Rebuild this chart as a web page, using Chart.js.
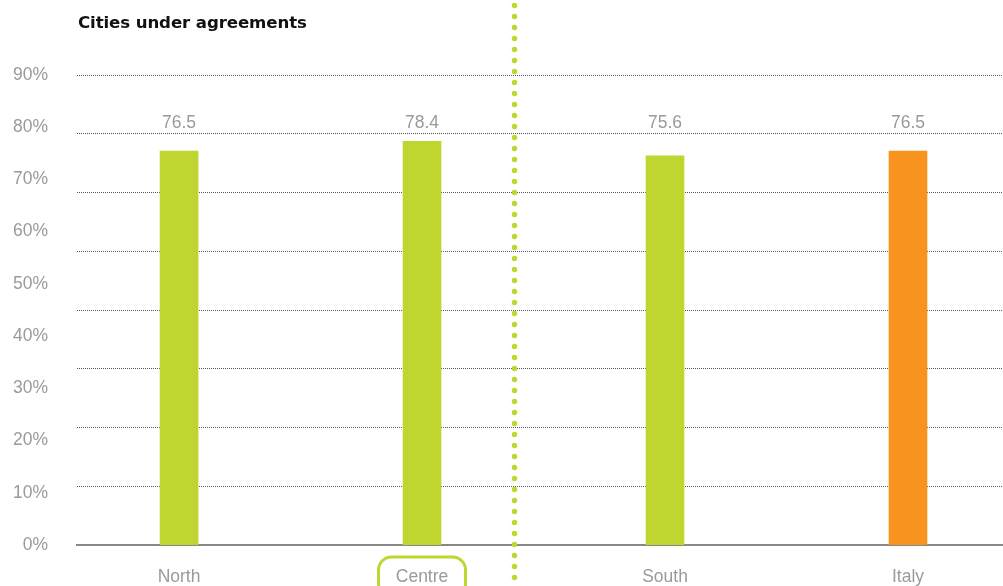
<!DOCTYPE html>
<html>
<head>
<meta charset="utf-8">
<script src="https://cdn.jsdelivr.net/npm/chart.js@4.4.1/dist/chart.umd.min.js"></script>
<style>
  html, body { margin: 0; padding: 0; background: #fff; overflow: hidden; }
  .wrap { position: relative; width: 1003px; height: 586px; }
  .title { position: absolute; left: 78px; top: 13px; font: bold 16.6px "DejaVu Sans", Arial, sans-serif; color: #111; letter-spacing: -0.1px; }
  canvas { display: block; }
</style>
</head>
<body>
<div class="wrap">
  <div class="title">Cities under agreements</div>
  <canvas id="chart" width="1003" height="586"></canvas>
</div>
<script>
// Share of cities under agreements, by area
const areas = ['North', 'Centre', 'South', 'Italy'];
const shares = [76.5, 78.4, 75.6, 76.5];
const barColors = ['#bed62f', '#bed62f', '#bed62f', '#f7931e'];
const yTicks = [0, 10, 20, 30, 40, 50, 60, 70, 80, 90];
const highlighted = 'Centre';
const dividerAt = 1.38; // between Centre and South

const green = '#bed62f';
const grey = '#9a9a9c';
const font = { family: '"Liberation Sans", Arial, sans-serif', size: 17.5 };

const extras = {
  id: 'extras',
  afterDatasetsDraw(chart) {
    const { ctx, scales: { x }, chartArea } = chart;
    ctx.save();
    // value labels above the bars
    ctx.font = font.size + 'px ' + font.family;
    ctx.fillStyle = grey;
    ctx.textAlign = 'center';
    ctx.textBaseline = 'middle';
    shares.forEach((v, i) => {
      ctx.fillText(v.toFixed(1), x.getPixelForValue(i), chartArea.top + 48);
    });

    // dotted divider
    const dx = Math.round(x.getPixelForValue(dividerAt)) + 0.5;
    ctx.fillStyle = green;
    for (let y = 5.5; y < chart.height; y += 11) {
      ctx.beginPath();
      ctx.arc(dx, y, 2.7, 0, Math.PI * 2);
      ctx.fill();
    }

    // rounded box round the highlighted area label
    const hx = x.getPixelForValue(areas.indexOf(highlighted));
    const w = 87, h = 40, r = 13, top = 557;
    ctx.strokeStyle = green;
    ctx.lineWidth = 3;
    ctx.beginPath();
    ctx.roundRect(hx - w / 2, top, w, h, r);
    ctx.stroke();
    ctx.restore();
  }
};

new Chart(document.getElementById('chart'), {
  type: 'bar',
  data: {
    datasets: [{
      data: shares.map((v, i) => ({ x: i, y: v })),
      backgroundColor: barColors,
      barThickness: 38,
      yAxisID: 'y'
    }]
  },
  options: {
    responsive: false,
    animation: false,
    layout: { padding: { top: 75, right: 0, left: 0, bottom: 0 } },
    plugins: { legend: { display: false }, tooltip: { enabled: false } },
    scales: {
      x: {
        type: 'linear',
        offset: false,
        min: -0.42,
        max: 3.391,
        grid: { display: false, drawTicks: false, offset: false },
        border: { display: true, color: '#888', width: 2 },
        afterBuildTicks: s => { s.ticks = areas.map((a, i) => ({ value: i })); },
        afterFit: s => { s.height = 41; },
        ticks: { color: grey, font, padding: 22, maxRotation: 0, callback: v => areas[v] }
      },
      y: {
        display: false,
        min: 0,
        max: 91.3
      },
      yLabels: {
        position: 'left',
        min: 0,
        max: 90,
        grid: { display: false, drawTicks: false },
        border: { display: false },
        afterBuildTicks: s => { s.ticks = yTicks.map(v => ({ value: v })); },
        afterFit: s => { s.width = 77; },
        ticks: { color: grey, font, padding: 29, callback: v => v + '%' }
      },
      yGrid: {
        position: 'left',
        min: 0,
        max: 8,
        border: { display: false, dash: [1, 1] },
        afterFit: s => { s.width = 0; },
        ticks: { display: false, stepSize: 1 },
        grid: { color: '#555', lineWidth: 1, drawTicks: false }
      }
    }
  },
  plugins: [extras]
});
</script>
</body>
</html>
